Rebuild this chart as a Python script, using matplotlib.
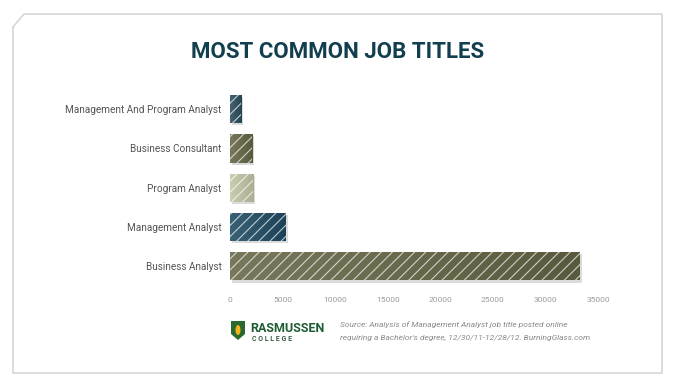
import matplotlib
matplotlib.use("Agg")
import matplotlib.pyplot as plt
import numpy as np
from matplotlib.patches import Polygon, Ellipse
from matplotlib.lines import Line2D
from matplotlib.colors import LinearSegmentedColormap, to_rgb
import matplotlib.patheffects as pe

# data (top to bottom in the picture)
titles = ["Management And Program Analyst", "Business Consultant", "Program Analyst",
          "Management Analyst", "Business Analyst"]
counts = [1050, 2100, 2200, 5300, 33250]
colors = ["#2c4d60", "#656545", "#c3c6a6", "#1f4b63", "#656545"]
ticks = [0, 5000, 10000, 15000, 20000, 25000, 30000, 35000]

plt.rcParams["hatch.linewidth"] = 0.8
label_font = ["Roboto", "DejaVu Sans"]

W, H = 676, 385
fig = plt.figure(figsize=(W / 100, H / 100), dpi=100)
fig.patch.set_facecolor("white")

# outer frame with a clipped top-left corner
fx = [13 / W, 24 / W, 662 / W, 662 / W, 13 / W, 13 / W]
fy = [1 - 27 / H, 1 - 14 / H, 1 - 14 / H, 1 - 373 / H, 1 - 373 / H, 1 - 27 / H]
fig.add_artist(Line2D(fx, fy, color="#d6d6d6", lw=1.2, transform=fig.transFigure))

fig.text(0.5, 1 - 52 / H, "MOST COMMON JOB TITLES", ha="center", va="center",
         fontsize=16, fontweight="bold", color="#123f50", family=["Roboto", "DejaVu Sans"])

ax = fig.add_axes([230 / W, 1 - 286 / H, 368 / W, 196.5 / H])
ypos = list(range(len(titles)))[::-1]
bh = 0.72
bars = ax.barh(ypos, counts, height=bh, color=colors, linewidth=0)
for b in bars:
    b.set_path_effects([pe.SimplePatchShadow(offset=(1.5, -1.5), shadow_rgbFace="#b8b8b8", alpha=0.5),
                        pe.Normal()])

# subtle left-to-right gradient inside each bar
grad = np.linspace(0, 1, 256).reshape(1, -1)
for b, y, v, c in zip(bars, ypos, counts, colors):
    rgb = to_rgb(c)
    light = tuple(x + (1 - x) * 0.12 for x in rgb)
    dark = tuple(x * 0.88 for x in rgb)
    cmap = LinearSegmentedColormap.from_list("g", [light, dark])
    im = ax.imshow(grad, cmap=cmap, aspect="auto", extent=(0, v, y - bh / 2, y + bh / 2),
                   zorder=2)
    im.set_clip_path(b)

ax.barh(ypos, counts, height=bh, color="none", edgecolor=(1, 1, 1, 0.7),
        linewidth=0, hatch="///", zorder=3)

ax.set_xlim(0, 35000)
ax.set_ylim(-0.5, len(titles) - 0.5)
ax.set_yticks(ypos)
ax.set_yticklabels(titles, fontsize=7.2, color="#555555", family=label_font)
ax.set_xticks(ticks)
ax.set_xticklabels([str(t) for t in ticks], fontsize=6, color="#9a9a9a", family=label_font)
ax.tick_params(length=0)
ax.tick_params(axis="y", pad=6)
ax.tick_params(axis="x", pad=8)
for s in ax.spines.values():
    s.set_visible(False)

# footer logo
shield = Polygon([(231 / W, 1 - 321 / H), (245 / W, 1 - 321 / H), (245 / W, 1 - 334 / H),
                  (238 / W, 1 - 340 / H), (231 / W, 1 - 334 / H)],
                 closed=True, facecolor="#2b6a2f", edgecolor="none", transform=fig.transFigure)
fig.add_artist(shield)
fig.add_artist(Ellipse((238 / W, 1 - 330 / H), 5 / W, 10 / H, facecolor="#f2b31c",
                       edgecolor="none", transform=fig.transFigure))
fig.text(250 / W, 1 - 328.5 / H, "RASMUSSEN", ha="left", va="center", fontsize=9,
         fontweight="bold", color="#1f5c33", family=["Roboto", "DejaVu Sans"])
fig.text(252 / W, 1 - 339 / H, "C O L L E G E", ha="left", va="center", fontsize=5,
         fontweight="bold", color="#3d5a45", family=["Roboto", "DejaVu Sans"])

fig.text(340 / W, 1 - 325 / H, "Source: Analysis of Management Analyst job title posted online",
         ha="left", va="center", fontsize=6.0, style="italic", color="#8a8a8a", family=label_font)
fig.text(340 / W, 1 - 338 / H, "requiring a Bachelor's degree, 12/30/11-12/28/12. BurningGlass.com",
         ha="left", va="center", fontsize=6.0, style="italic", color="#8a8a8a", family=label_font)

fig.savefig("out.png", dpi=100, facecolor="white")
